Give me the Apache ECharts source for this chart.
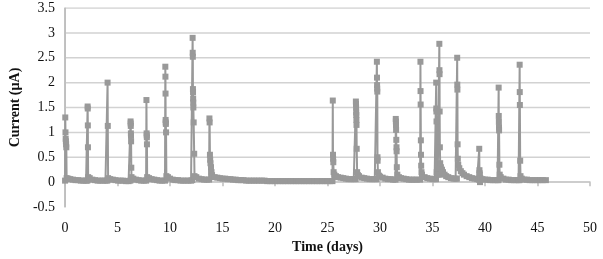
<!DOCTYPE html>
<html>
<head>
<meta charset="utf-8">
<script src="https://cdn.jsdelivr.net/npm/echarts@6/dist/echarts.min.js"></script>
<style>html,body{margin:0;padding:0;background:#fff}#c{width:603px;height:259px}</style>
</head>
<body>
<div id="c"></div>
<script>
// Time (days) and current (µA) readings
var days = [
  0, 0.02, 0.04, 0.06, 0.08, 0.1, 0.12, 0.15, 0.3, 0.5, 0.75, 1.0, 1.25, 1.5, 1.75, 2.0,
  2.12, 2.15, 2.16, 2.17, 2.18, 2.2, 2.35, 2.6, 2.85, 3.1, 3.35, 3.6, 3.85,
  4.02, 4.05, 4.07, 4.1, 4.3, 4.55, 4.8, 5.05, 5.3, 5.55, 5.8, 6.05,
  6.22, 6.24, 6.25, 6.26, 6.27, 6.28, 6.29, 6.31, 6.33, 6.5, 6.75, 7.0, 7.25, 7.5,
  7.72, 7.75, 7.77, 7.78, 7.79, 7.8, 7.82, 8.0, 8.25, 8.5, 8.75, 9.0, 9.25,
  9.52, 9.55, 9.56, 9.57, 9.58, 9.59, 9.6, 9.62, 9.65, 9.8, 10.0, 10.25, 10.5, 10.75, 11.0, 11.25, 11.5, 11.75, 12.0,
  12.12, 12.15, 12.16, 12.17, 12.18, 12.19, 12.2, 12.21, 12.22, 12.25, 12.3, 12.33, 12.5, 12.75, 13.0, 13.25, 13.5,
  13.72, 13.75, 13.77, 13.8, 13.82, 13.85, 13.9, 13.95, 14.0, 14.25, 14.5, 14.75, 15.0, 15.25, 15.5, 15.75, 16.0, 16.25, 16.5, 16.75, 17.0,
  17.25, 17.5, 17.75, 18.0, 18.25, 18.5, 18.75, 19.0, 19.25, 19.5, 19.75, 20.0, 20.25, 20.5, 20.75, 21.0, 21.25, 21.5, 21.75,
  22.0, 22.25, 22.5, 22.75, 23.0, 23.25, 23.5, 23.75, 24.0, 24.25, 24.5, 24.75, 25.0, 25.25,
  25.47, 25.5, 25.52, 25.53, 25.55, 25.58, 25.65, 25.8, 26.0, 26.25, 26.5, 26.75, 27.0, 27.25, 27.5,
  27.67, 27.7, 27.71, 27.72, 27.73, 27.74, 27.75, 27.76, 27.78, 27.82, 27.9, 28.0, 28.25, 28.5, 28.75, 29.0, 29.25, 29.5,
  29.67, 29.7, 29.71, 29.72, 29.73, 29.74, 29.76, 29.77, 29.8, 29.9, 30.0, 30.25, 30.5, 30.75, 31.0, 31.25,
  31.47, 31.5, 31.51, 31.52, 31.53, 31.55, 31.57, 31.58, 31.6, 31.65, 31.8, 32.0, 32.25, 32.5, 32.75, 33.0, 33.25, 33.5,
  33.82, 33.85, 33.86, 33.87, 33.89, 33.9, 33.92, 33.95, 34.0, 34.25, 34.5, 34.75, 35.0, 35.2,
  35.33, 35.35, 35.36, 35.37, 35.38, 35.4, 35.5, 35.62, 35.65, 35.66, 35.67, 35.68, 35.7, 35.73, 35.8, 35.9, 36.0, 36.15, 36.3, 36.5, 36.75, 37.0, 37.2,
  37.32, 37.35, 37.36, 37.37, 37.39, 37.41, 37.45, 37.55, 37.7, 37.85, 38.0, 38.25, 38.5, 38.75, 39.0, 39.25,
  39.42, 39.45, 39.47, 39.48, 39.5, 39.52, 39.55, 39.75, 40.0, 40.25, 40.5, 40.75, 41.0, 41.2,
  41.28, 41.3, 41.31, 41.32, 41.33, 41.34, 41.37, 41.4, 41.5, 41.75, 42.0, 42.25, 42.5, 42.75, 43.0, 43.2,
  43.28, 43.3, 43.31, 43.32, 43.35, 43.38, 43.5, 43.75, 44.0, 44.25, 44.5, 44.75, 45.0, 45.25, 45.5, 45.8
];
var current = [
  0.03, 1.3, 1.0, 0.87, 0.82, 0.76, 0.7, 0.08, 0.07, 0.06, 0.05, 0.04, 0.04, 0.03, 0.03, 0.03,
  0.03, 1.52, 1.48, 1.14, 0.7, 0.1, 0.08, 0.05, 0.04, 0.03, 0.03, 0.03, 0.03,
  0.03, 2.0, 1.13, 0.08, 0.06, 0.05, 0.04, 0.03, 0.03, 0.03, 0.02, 0.02,
  0.03, 1.22, 1.18, 1.13, 0.98, 0.93, 0.82, 0.29, 0.1, 0.07, 0.05, 0.04, 0.03, 0.03,
  0.03, 1.65, 0.98, 0.94, 0.9, 0.76, 0.1, 0.08, 0.06, 0.05, 0.04, 0.03, 0.03,
  0.03, 2.32, 2.12, 1.78, 1.25, 1.2, 1.17, 1.0, 0.12, 0.1, 0.07, 0.05, 0.04, 0.04, 0.03, 0.03, 0.03, 0.03, 0.03,
  0.04, 2.9, 2.6, 2.52, 1.87, 1.81, 1.68, 1.6, 1.5, 1.2, 0.57, 0.12, 0.1, 0.07, 0.06, 0.05, 0.05,
  0.05, 1.28, 1.2, 0.55, 0.45, 0.38, 0.3, 0.2, 0.14, 0.1, 0.09, 0.08, 0.07, 0.07, 0.06, 0.06, 0.05, 0.05, 0.04, 0.04, 0.04,
  0.03, 0.03, 0.03, 0.03, 0.03, 0.03, 0.03, 0.03, 0.02, 0.02, 0.02, 0.02, 0.02, 0.02, 0.02, 0.02, 0.02, 0.02, 0.02,
  0.02, 0.02, 0.02, 0.02, 0.02, 0.02, 0.02, 0.02, 0.02, 0.02, 0.02, 0.02, 0.02, 0.02,
  0.02, 1.64, 0.55, 0.47, 0.4, 0.2, 0.15, 0.12, 0.1, 0.09, 0.08, 0.07, 0.06, 0.06, 0.06,
  0.06, 1.62, 1.57, 1.5, 1.4, 1.35, 1.25, 1.15, 0.67, 0.2, 0.14, 0.12, 0.09, 0.08, 0.07, 0.06, 0.06, 0.06,
  0.06, 2.42, 2.1, 1.95, 1.88, 1.82, 0.5, 0.43, 0.2, 0.13, 0.11, 0.09, 0.07, 0.06, 0.06, 0.05,
  0.05, 1.27, 1.22, 1.15, 1.05, 0.85, 0.7, 0.62, 0.3, 0.15, 0.1, 0.08, 0.07, 0.06, 0.05, 0.05, 0.05, 0.05,
  0.05, 2.42, 1.83, 1.56, 0.84, 0.55, 0.33, 0.2, 0.15, 0.1, 0.08, 0.07, 0.06, 0.06,
  0.06, 2.0, 1.48, 1.42, 1.22, 0.2, 0.15, 0.15, 2.78, 2.25, 2.17, 1.42, 0.7, 0.38, 0.3, 0.25, 0.2, 0.15, 0.12, 0.1, 0.08, 0.07, 0.07,
  0.07, 2.5, 1.96, 1.86, 0.76, 0.47, 0.35, 0.28, 0.22, 0.18, 0.15, 0.12, 0.1, 0.08, 0.07, 0.06,
  0.05, 0.67, 0.24, 0.18, 0.15, 0.0, 0.08, 0.06, 0.05, 0.05, 0.04, 0.04, 0.04, 0.04,
  0.04, 1.9, 1.33, 1.21, 1.1, 1.04, 0.35, 0.15, 0.1, 0.07, 0.05, 0.05, 0.04, 0.04, 0.04, 0.04,
  0.04, 2.36, 1.81, 1.55, 0.43, 0.12, 0.07, 0.05, 0.05, 0.04, 0.04, 0.04, 0.04, 0.04, 0.04, 0.04
];
// y tick values that carry a horizontal gridline, and the x range they span
var gridValues = [0.5, 1, 1.5, 2, 2.5, 3, 3.5];
var xRange = [0, 50];
var xTitle = 'Time (days)';
var yTitle = 'Current (\u00b5A)';

var points = days.map(function (d, i) { return [d, current[i]]; });
var font = '"Liberation Serif", "DejaVu Serif", serif';

var gridSeries = gridValues.map(function (v) {
  return {
    type: 'line', silent: true, z: 1, symbol: 'none',
    data: [[xRange[0], v], [xRange[1], v]],
    lineStyle: { color: '#d2d2d2', width: 1.5 }
  };
});
var axisSeries = {
  type: 'line', silent: true, z: 1, symbol: 'none',
  data: [[xRange[0], -0.5], [xRange[0], 3.5]],
  lineStyle: { color: '#bdbdbd', width: 1.5 }
};

var chart = echarts.init(document.getElementById('c'), null, { renderer: 'canvas' });
chart.setOption({
  animation: false,
  grid: { left: 53, right: 13, top: 8, bottom: 18, containLabel: false },
  xAxis: {
    type: 'value', min: xRange[0], max: xRange[1], interval: 5,
    name: xTitle, nameLocation: 'middle', nameGap: 33,
    nameTextStyle: { fontFamily: font, fontWeight: 'bold', fontSize: 14, color: '#111' },
    axisLine: { onZero: true, lineStyle: { color: '#bdbdbd', width: 1.5 } },
    axisTick: { show: true, length: 4, lineStyle: { color: '#bdbdbd', width: 1.5 } },
    axisLabel: { margin: 14, fontFamily: font, fontSize: 14, color: '#111' },
    splitLine: { show: false }
  },
  yAxis: {
    type: 'value', min: -0.5, max: 3.5, interval: 0.5,
    name: yTitle, nameLocation: 'middle', nameGap: 37, nameRotate: 90,
    nameTextStyle: { fontFamily: font, fontWeight: 'bold', fontSize: 14, color: '#111' },
    axisLine: { show: true, lineStyle: { color: '#bdbdbd', width: 1.5 } },
    axisTick: { show: false },
    axisLabel: { margin: 10, fontFamily: font, fontSize: 14, color: '#111' },
    splitLine: { show: false }
  },
  series: gridSeries.concat([axisSeries, {
    type: 'line',
    data: points,
    z: 3,
    symbol: 'rect',
    symbolSize: 6,
    showAllSymbol: true,
    lineStyle: { color: '#999999', width: 2 },
    itemStyle: { color: '#999999' }
  }])
});
</script>
</body>
</html>
